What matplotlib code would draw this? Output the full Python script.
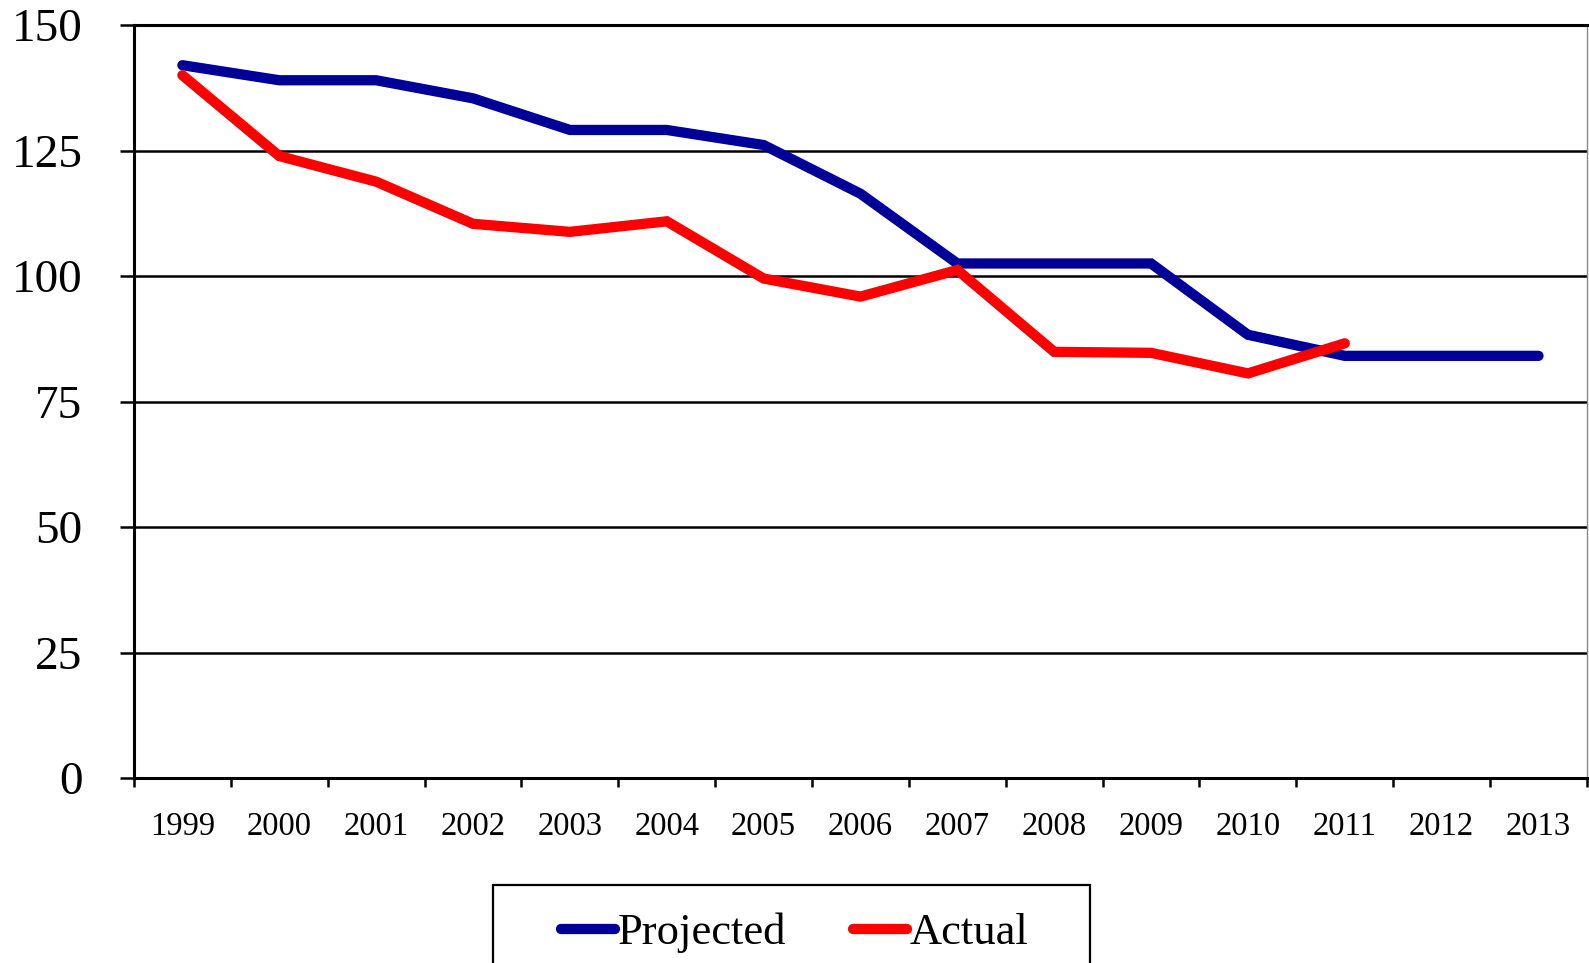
import numpy as np
import matplotlib.pyplot as plt
from matplotlib.patches import Rectangle

years = ['1999', '2000', '2001', '2002', '2003', '2004', '2005', '2006',
         '2007', '2008', '2009', '2010', '2011', '2012', '2013']
projected = [142.0, 139.0, 139.0, 135.4, 129.1, 129.1, 126.1, 116.4,
             102.5, 102.5, 102.5, 88.3, 84.1, 84.1, 84.1]
actual = [140.0, 123.9, 118.8, 110.4, 108.8, 110.9, 99.5, 95.9,
          101.2, 84.9, 84.7, 80.6, 86.6]
y_ticks = [0, 25, 50, 75, 100, 125, 150]

plt.rcParams['font.family'] = ['Liberation Serif', 'DejaVu Serif']

fig = plt.figure(figsize=(15.89, 9.63), dpi=100)
ax = fig.add_axes([0.0843, 0.1921, 0.9144, 0.7819])

x = np.arange(len(years))
ax.plot(x, projected, color='#000099', lw=7.4, solid_capstyle='round',
        solid_joinstyle='miter', label='Projected', zorder=3)
ax.plot(x[:len(actual)], actual, color='#ff0000', lw=7.4, solid_capstyle='round',
        solid_joinstyle='miter', label='Actual', zorder=4)

ax.set_xlim(-0.5, len(years) - 0.5)
ax.set_ylim(0, 150)

# y axis: gridlines every 25
ax.set_yticks(y_ticks)
ax.set_yticklabels([str(v) for v in y_ticks], fontsize=34)
ax.tick_params(axis='y', direction='out', length=10, width=1.8, pad=27)
ax.yaxis.grid(True, color='black', lw=1.8)
ax.set_axisbelow(True)

# x axis: labels at category centres, tick marks on boundaries
ax.set_xticks(x)
ax.set_xticklabels(years, fontsize=23.5)
ax.tick_params(axis='x', which='major', length=0, pad=24)
ax.set_xticks(np.arange(-0.5, len(years)), minor=True)
ax.tick_params(axis='x', which='minor', direction='out', length=6.5, width=1.8)

for side in ['left', 'bottom', 'top']:
    ax.spines[side].set_linewidth(2.2)
    ax.spines[side].set_color('black')
ax.spines['right'].set_linewidth(1)
ax.spines['right'].set_color('#888888')

# legend box sits across the bottom edge of the figure
fig.patches.append(Rectangle((493 / 1589, -0.02), (1090 - 493) / 1589, 0.101,
                             transform=fig.transFigure, fill=False,
                             edgecolor='black', lw=1.6))
fig.legend(loc='center', bbox_to_anchor=(0.5, 0.031), ncol=2, frameon=False,
           fontsize=32, handlelength=1.22, handletextpad=0.05,
           columnspacing=1.5)

fig.savefig('out.png', dpi=100)
